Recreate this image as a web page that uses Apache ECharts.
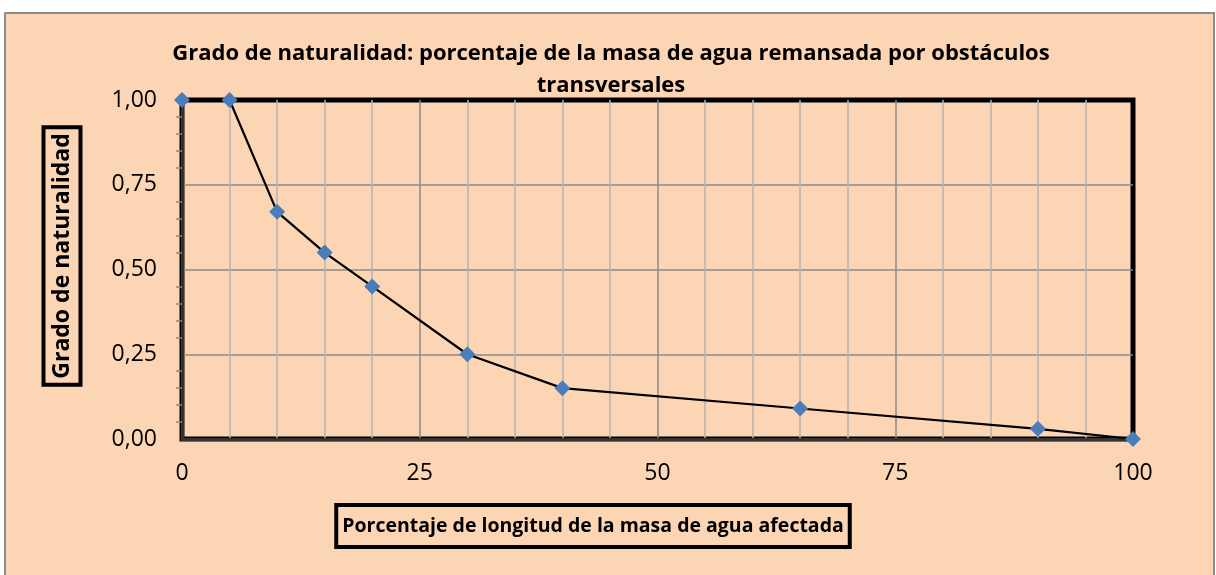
<!DOCTYPE html>
<html>
<head>
<meta charset="utf-8">
<script src="https://cdn.jsdelivr.net/npm/echarts@6/dist/echarts.min.js"></script>
<style>
    html, body {margin: 0; padding: 0; background: #ffffff;}
    #chart {width: 1216px; height: 575px;}
</style>
</head>
<body>
<div id="chart"></div>
<script>
const x_data = [0, 5, 10, 15, 20, 30, 40, 65, 90, 100];
const y_data = [1.00, 1.00, 0.67, 0.55, 0.45, 0.25, 0.15, 0.09, 0.03, 0.00];
const title_text = 'Grado de naturalidad: porcentaje de la masa de agua remansada por obstáculos\ntransversales';
const x_name = 'Porcentaje de longitud de la masa de agua afectada';
const y_name = 'Grado de naturalidad';

const font = '"Open Sans", "Noto Sans", sans-serif';
const chart = echarts.init(document.getElementById('chart'), null, {renderer: 'canvas'});

const options = {
    animation: false,
    textStyle: {fontFamily: font},
    title: {
        text: title_text,
        left: 611,
        top: 38,
        padding: 0,
        textAlign: 'center',
        textStyle: {fontSize: 22, fontWeight: 'bold', color: '#000', lineHeight: 32, fontFamily: font}
    },
    grid: {
        left: 182,
        right: 83,
        top: 100,
        bottom: 136,
        show: true,
        borderColor: '#000',
        borderWidth: 5,
        backgroundColor: 'transparent'
    },
    xAxis: {
        type: 'value',
        min: 0,
        max: 100,
        interval: 25,
        axisLine: {show: true, lineStyle: {color: '#333', width: 3}},
        axisTick: {show: false},
        axisLabel: {fontSize: 23, color: '#000', margin: 23, fontFamily: font},
        splitLine: {show: true, showMinLine: false, showMaxLine: false, lineStyle: {color: '#8a8a8a', width: 1.5}},
        minorTick: {show: false, splitNumber: 5},
        minorSplitLine: {show: true, lineStyle: {color: '#b4b4b4', width: 1.5}}
    },
    yAxis: {
        type: 'value',
        min: 0,
        max: 1,
        interval: 0.25,
        axisLine: {show: true, lineStyle: {color: '#333', width: 3}},
        axisTick: {show: false},
        minorTick: {show: true, splitNumber: 5, length: 6, lineStyle: {color: '#8a8a8a', width: 1.5}},
        axisLabel: {
            fontSize: 23, color: '#000', margin: 25, fontFamily: font,
            formatter: v => v.toFixed(2).replace('.', ',')
        },
        splitLine: {show: true, showMinLine: false, showMaxLine: false, lineStyle: {color: '#8a8a8a', width: 1.5}}
    },
    series: [{
        type: 'line',
        data: x_data.map((x, i) => [x, y_data[i]]),
        symbol: 'diamond',
        symbolSize: 16,
        showAllSymbol: true,
        clip: false,
        lineStyle: {color: '#000', width: 2.2},
        itemStyle: {color: '#4a7ebb', borderWidth: 0},
        z: 5
    }],
    graphic: [
        {
            type: 'rect',
            z: -10,
            silent: true,
            shape: {x: 5, y: 13, width: 1209, height: 600},
            style: {fill: '#fcd5b5', stroke: '#8c8c8c', lineWidth: 2}
        },
        {
            type: 'text',
            x: 593,
            y: 526,
            z: 10,
            style: {
                text: x_name,
                font: 'bold 19.5px ' + font,
                fill: '#000',
                align: 'center',
                verticalAlign: 'middle',
                borderColor: '#000',
                borderWidth: 4,
                padding: [11, 6, 11, 6]
            }
        },
        {
            type: 'text',
            x: 62,
            y: 256,
            rotation: Math.PI / 2,
            z: 10,
            style: {
                text: y_name,
                font: 'bold 23px ' + font,
                fill: '#000',
                align: 'center',
                verticalAlign: 'middle',
                borderColor: '#000',
                borderWidth: 4,
                padding: [7, 6, 7, 6]
            }
        }
    ]
};
chart.setOption(options);
</script>
</body>
</html>
